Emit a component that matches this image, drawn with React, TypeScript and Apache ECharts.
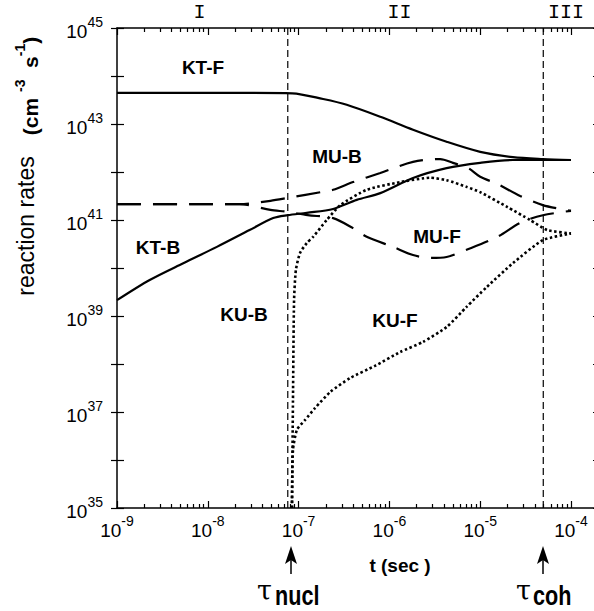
import React, { useEffect, useRef } from "react";
import * as echarts from "echarts";

// ---- data (time in s, rate in cm^-3 s^-1) ----
const ktfT = [1e-9, 1e-8, 3.162e-8, 8.511e-8, 1.862e-7, 3.388e-7, 7.943e-7, 1.82e-6, 4.266e-6, 1e-5, 2.291e-5, 4.898e-5, 1e-4];
const ktfR = [4.467e43, 4.467e43, 4.467e43, 4.365e43, 3.311e43, 2.512e43, 1.413e43, 7.586e42, 4.266e42, 2.63e42, 2.042e42, 1.862e42, 1.778e42];

const ktbT = [1e-9, 2.291e-9, 5.37e-9, 1.259e-8, 2.884e-8, 5.248e-8, 7.586e-8, 1.23e-7, 2.399e-7, 4.365e-7, 7.943e-7, 1.82e-6, 4.266e-6, 1e-5, 2.291e-5, 4.898e-5, 1e-4];
const ktbR = [2.138e39, 5.623e39, 1.259e40, 2.754e40, 6.166e40, 1.096e41, 1.259e41, 1.413e41, 1.698e41, 2.63e41, 3.631e41, 7.5e41, 1.202e42, 1.549e42, 1.778e42, 1.778e42, 1.778e42];

const mubT = [1e-9, 1e-8, 2.239e-8, 4.898e-8, 7.586e-8, 1.862e-7, 2.399e-7, 3.981e-7, 7.943e-7, 1.82e-6, 3.631e-6, 5.012e-6, 7.413e-6, 1e-5, 1.549e-5, 2.754e-5, 4.898e-5, 7.586e-5, 1e-4];
const mubR = [2.138e41, 2.138e41, 2.138e41, 2.512e41, 2.884e41, 3.89e41, 4.266e41, 6.166e41, 9.55e41, 1.622e42, 1.862e42, 1.549e42, 1.202e42, 7.943e41, 5.623e41, 3.162e41, 2.042e41, 1.698e41, 1.549e41];

const mufT = [1e-9, 1e-8, 2.239e-8, 4.898e-8, 7.586e-8, 1.259e-7, 2.399e-7, 3.981e-7, 5.623e-7, 1.096e-6, 1.82e-6, 2.818e-6, 4.266e-6, 7.079e-6, 1.549e-5, 2.754e-5, 4.898e-5, 1e-4];
const mufR = [2.138e41, 2.138e41, 2.138e41, 1.622e41, 1.479e41, 1.259e41, 1.096e41, 6.761e40, 4.467e40, 2.754e40, 1.862e40, 1.622e40, 1.698e40, 2.399e40, 4.467e40, 8.71e40, 1.259e41, 1.549e41];

const kubT = [8.45e-8, 8.67e-8, 8.913e-8, 9.333e-8, 1.035e-7, 1.23e-7, 1.445e-7, 2.042e-7, 2.884e-7, 5.623e-7, 1.318e-6, 2.818e-6, 4.266e-6, 7.079e-6, 1e-5, 1.995e-5, 3.548e-5, 5.495e-5, 1e-4];
const kubR = [1e35, 1.778e37, 2.138e39, 9.12e39, 2.042e40, 3.311e40, 4.467e40, 1e41, 2.042e41, 4.266e41, 6.166e41, 7.586e41, 6.761e41, 4.898e41, 3.802e41, 1.862e41, 1e41, 6.166e40, 5.248e40];

const kufT = [8.45e-8, 8.67e-8, 9.59e-8, 1.175e-7, 1.514e-7, 2.239e-7, 3.715e-7, 6.918e-7, 1.318e-6, 2.344e-6, 4.266e-6, 7.079e-6, 1.175e-5, 2.291e-5, 4.898e-5, 1e-4];
const kufR = [1e35, 1.622e36, 4.266e36, 6.761e36, 1.202e37, 2.63e37, 5.129e37, 9.12e37, 1.778e38, 2.884e38, 5.888e38, 1.549e39, 3.981e39, 1.259e40, 3.802e40, 5.248e40];

const tauLines = [7.6e-8, 4.95e-5];
const xRange = [1e-9, 2.14e-4];
const yRange = [1e35, 1e45];
const yExpRange = [35, 45];

const SANS = "Liberation Sans";
const BLACK = "#000";

const zip = (t: number[], r: number[]) => t.map((v, i) => [v, r[i]]);

const fmtX = (v: number) => {
  const e = Math.log10(v);
  const r = Math.round(e);
  if (Math.abs(e - r) > 1e-6) return "";
  return `{b|10}{s|${r}}`;
};
const fmtY = (v: number) => {
  const r = Math.round(v);
  return Math.abs(r % 2) === 1 ? `{b|10}{s|${r}}` : "";
};

const tickRich = {
  b: { fontFamily: SANS, fontSize: 19, lineHeight: 26, verticalAlign: "bottom", color: BLACK },
  s: { fontFamily: SANS, fontSize: 14, lineHeight: 14, verticalAlign: "top", color: BLACK },
};

const axisLine = { show: true, onZero: false, lineStyle: { color: BLACK, width: 1.5 } };

function lineSeries(name: string, t: number[], r: number[], type: any, width: number, smooth: number) {
  return {
    name,
    type: "line",
    xAxisIndex: 0,
    yAxisIndex: 0,
    data: zip(t, r),
    showSymbol: false,
    symbol: "none",
    smooth,
    silent: true,
    lineStyle: { color: BLACK, width, type, cap: "butt" },
  };
}

function tauSeries(v: number) {
  return {
    type: "line",
    xAxisIndex: 0,
    yAxisIndex: 0,
    data: [[v, yRange[0]], [v, yRange[1]]],
    showSymbol: false,
    symbol: "none",
    silent: true,
    lineStyle: { color: BLACK, width: 1.2, type: [7, 4] },
  };
}

function xAxisDef(position: "top" | "bottom", showLabel: boolean) {
  return {
    type: "log",
    logBase: 10,
    position,
    min: xRange[0],
    max: xRange[1],
    splitNumber: 5,
    axisLine,
    axisTick: { show: true, inside: true, length: 7, lineStyle: { color: BLACK, width: 1.2 } },
    minorTick: { show: true, splitNumber: 9, length: 4, lineStyle: { color: BLACK, width: 1.2 } },
    splitLine: { show: false },
    minorSplitLine: { show: false },
    axisLabel: showLabel
      ? { show: true, formatter: fmtX, rich: tickRich, margin: 6, hideOverlap: false }
      : { show: false },
  };
}

function yValueAxis(position: "left" | "right", inside: boolean, showLine: boolean, showLabel: boolean, len: number) {
  return {
    type: "value",
    position,
    min: yExpRange[0],
    max: yExpRange[1],
    interval: 1,
    axisLine: { ...axisLine, show: showLine },
    axisTick: { show: true, inside, length: len, lineStyle: { color: BLACK, width: 1.2 } },
    splitLine: { show: false },
    axisLabel: showLabel ? { show: true, formatter: fmtY, rich: tickRich, margin: 14 } : { show: false },
  };
}

function txt(text: string, x: number, y: number, font: string, extra: any = {}, styleExtra: any = {}) {
  return {
    type: "text",
    x,
    y,
    silent: true,
    style: { text, font, fill: BLACK, align: "center", verticalAlign: "middle", ...styleExtra },
    ...extra,
  };
}

function arrow(x: number) {
  return [
    { type: "line", silent: true, shape: { x1: x, y1: 556, x2: x, y2: 574 }, style: { stroke: BLACK, lineWidth: 1.5 } },
    { type: "polygon", silent: true, shape: { points: [[x, 546], [x + 6, 564], [x, 560], [x - 6, 564]] }, style: { fill: BLACK } },
  ];
}

const labelFont = `bold 19px "${SANS}"`;

const option: any = {
  animation: false,
  backgroundColor: "#fff",
  textStyle: { fontFamily: SANS, color: BLACK },
  grid: { left: 117, top: 28, width: 484, height: 480, containLabel: false },
  xAxis: [xAxisDef("bottom", true), xAxisDef("top", false)],
  yAxis: [
    { type: "log", logBase: 10, min: yRange[0], max: yRange[1], show: false },
    yValueAxis("left", true, true, true, 7),
    yValueAxis("left", false, false, false, 6),
    yValueAxis("right", true, true, false, 8),
  ],
  series: [
    ...tauLines.map(tauSeries),
    lineSeries("KT-F", ktfT, ktfR, "solid", 2.2, 0.3),
    lineSeries("KT-B", ktbT, ktbR, "solid", 2.2, 0.3),
    lineSeries("MU-B", mubT, mubR, [24, 12], 2.2, 0.3),
    lineSeries("MU-F", mufT, mufR, [24, 12], 2.2, 0.3),
    lineSeries("KU-B", kubT, kubR, [2.5, 2.5], 2.6, 0.2),
    lineSeries("KU-F", kufT, kufR, [2.5, 2.5], 2.6, 0.2),
  ],
  graphic: [
    txt("I", 199.5, 12, `20px "Liberation Mono"`),
    txt("II", 399.5, 12, `20px "Liberation Mono"`),
    txt("III", 566, 12, `20px "Liberation Mono"`),
    txt("KT-F", 203, 67, labelFont),
    txt("MU-B", 337, 156, labelFont),
    txt("KT-B", 158, 247, labelFont),
    txt("KU-B", 244, 314, labelFont),
    txt("MU-F", 437, 236, labelFont),
    txt("KU-F", 395, 320, labelFont),
    txt("reaction rates", 26, 226, `23px "${SANS}"`, { rotation: Math.PI / 2 }),
    {
      type: "text",
      x: 27,
      y: 86,
      rotation: Math.PI / 2,
      silent: true,
      style: {
        text: "{b|(cm }{s|-3}{b|  s}{s|-1}{b|)}",
        align: "center",
        verticalAlign: "middle",
        fill: BLACK,
        rich: {
          b: { fontFamily: SANS, fontWeight: "bold", fontSize: 21, lineHeight: 28, verticalAlign: "bottom", color: BLACK },
          s: { fontFamily: SANS, fontWeight: "bold", fontSize: 14, lineHeight: 14, verticalAlign: "top", color: BLACK },
        },
      },
    },
    txt("t (sec )", 400, 565, `bold 19px "${SANS}"`),
    ...arrow(291),
    ...arrow(543),
    txt("τ", 257, 590, `27px "DejaVu Serif"`, {}, { align: "left" }),
    txt("nucl", 275, 596, `bold 27px "${SANS}"`, { scaleX: 0.8 }, { align: "left" }),
    txt("τ", 516, 590, `27px "DejaVu Serif"`, {}, { align: "left" }),
    txt("coh", 533, 596, `bold 27px "${SANS}"`, { scaleX: 0.8 }, { align: "left" }),
  ],
};

export default function App() {
  const ref = useRef<HTMLDivElement>(null);
  useEffect(() => {
    if (!ref.current) return;
    const chart = echarts.init(ref.current, null, { renderer: "svg" });
    chart.setOption(option);
    return () => chart.dispose();
  }, []);
  return (
    <div style={{ position: "fixed", left: 0, top: 0, width: 594, height: 611, overflow: "hidden", background: "#fff" }}>
      <div ref={ref} style={{ width: 610, height: 611 }} />
    </div>
  );
}
